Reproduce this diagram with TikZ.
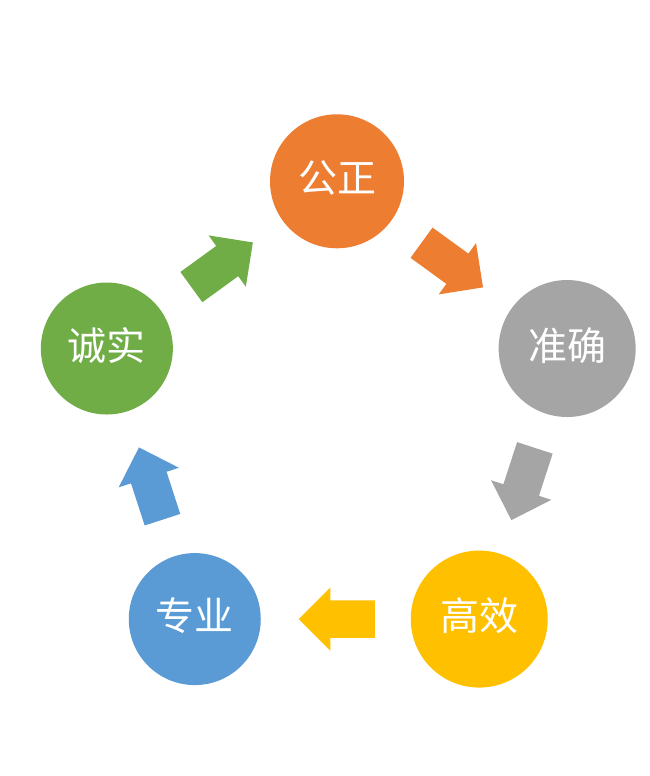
\documentclass[tikz,border=0pt]{standalone}
\usepackage{fontspec}
\newfontfamily\cjk{Noto Sans CJK SC}
\usetikzlibrary{shapes.arrows}
\definecolor{orz}{HTML}{ED7D31}
\definecolor{grz}{HTML}{A5A5A5}
\definecolor{ylz}{HTML}{FFC000}
\definecolor{blz}{HTML}{5B9BD5}
\definecolor{gnz}{HTML}{70AD47}
\begin{document}
\begin{tikzpicture}[x=1pt,y=1pt,
            every node/.style={inner sep=0pt},
            blob/.style={circle,minimum size=#1,text=white,text height=34pt,text depth=11pt,
              font=\cjk\fontsize{39}{39}\selectfont},
            blk/.style={single arrow,fill=#1,minimum height=76pt,inner ysep=18.5pt,
              single arrow head extend=13pt,pos=0.468,sloped,allow upside down}]
            \useasboundingbox(0,0)rectangle(649,776);
            \coordinate(m)at(337,352.7);
            \node[blob=134pt,fill=orz](gz)at([shift={(90:242)}]m){公正};
            \node[blob=137pt,fill=grz](zq)at([shift={(18:242)}]m){准确};
            \node[blob=137pt,fill=ylz](gx)at([shift={(-54:242)}]m){高效};
            \node[blob=132pt,fill=blz](zy)at([shift={(-126:242)}]m){专业};
            \node[blob=132pt,fill=gnz](cs)at([shift={(162:242)}]m){诚实};
            \path(gz.center)--node[blk=orz]{}(zq.center);
            \path(zq.center)--node[blk=grz]{}(gx.center);
            \path(gx.center)--node[blk=ylz]{}(zy.center);
            \path(zy.center)--node[blk=blz]{}(cs.center);
            \path(cs.center)--node[blk=gnz]{}(gz.center);
          \end{tikzpicture}
\end{document}
